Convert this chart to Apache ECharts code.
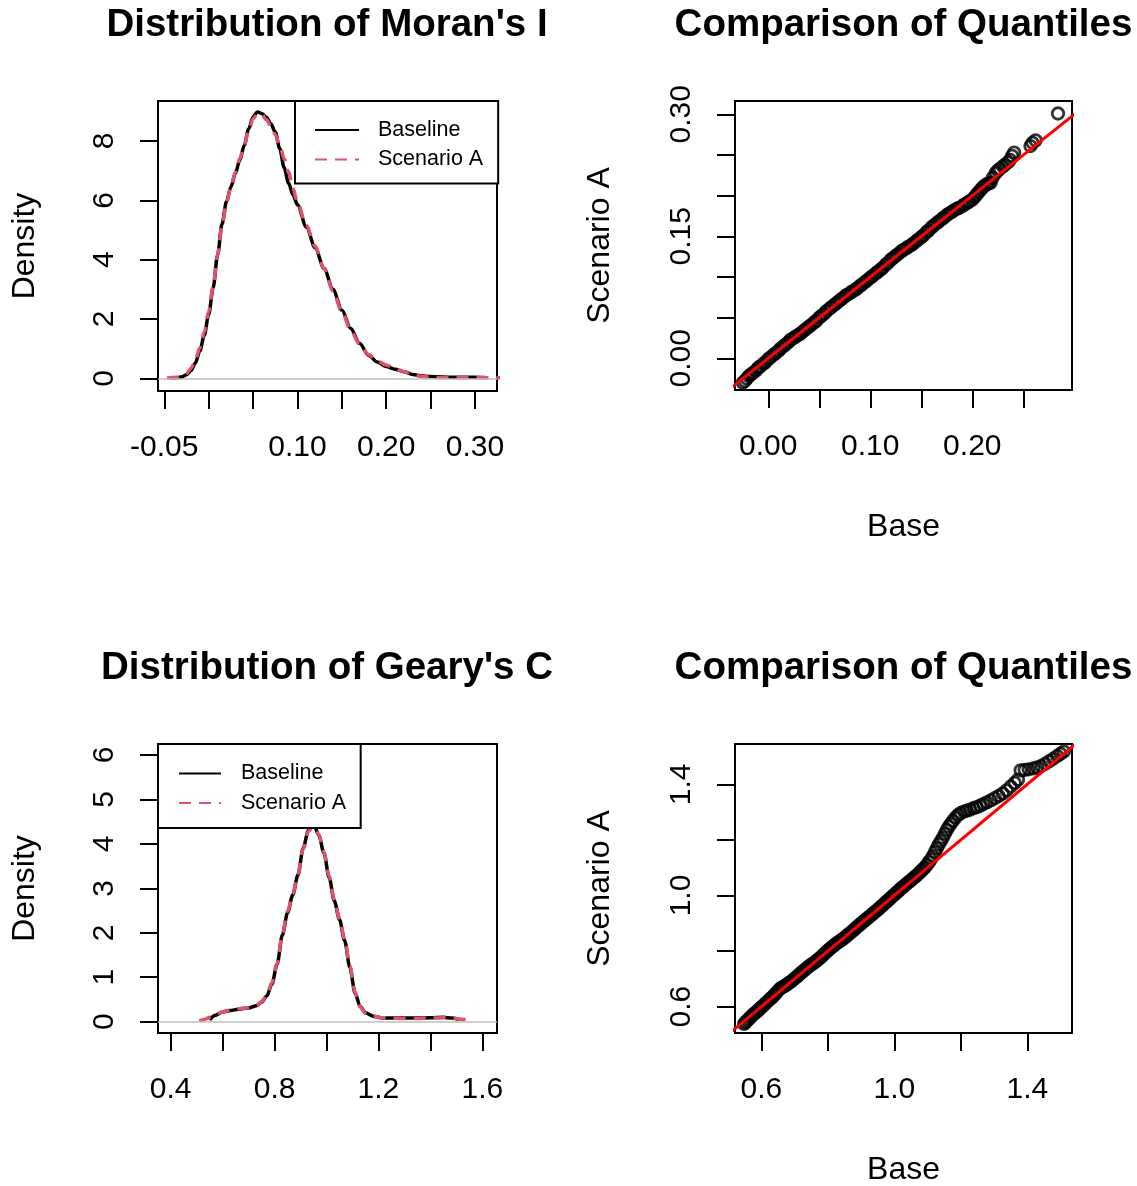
<!DOCTYPE html>
<html>
<head>
<meta charset="utf-8">
<script src="https://cdn.jsdelivr.net/npm/echarts@6/dist/echarts.min.js"></script>
<style>
  html, body { margin: 0; padding: 0; background: #fff; }
  #chart { width: 1137px; height: 1186px; }
</style>
</head>
<body>
<div id="chart"></div>
<script>
// Moran's I - density curves
const moranX = [-0.047, -0.043, -0.040, -0.035, -0.030, -0.025, -0.020, -0.015, -0.010, -0.005,
  0.000, 0.005, 0.010, 0.015, 0.020, 0.025, 0.030, 0.035, 0.040, 0.045,
  0.050, 0.055, 0.060, 0.065, 0.070, 0.075, 0.080, 0.085, 0.090, 0.095,
  0.100, 0.110, 0.120, 0.130, 0.140, 0.150, 0.160, 0.170, 0.180, 0.190,
  0.200, 0.210, 0.220, 0.230, 0.240, 0.250, 0.260, 0.270, 0.280, 0.290,
  0.300, 0.311, 0.320, 0.330]
const moranBaseline = [null, 0.00, 0.01, 0.02, 0.05, 0.12, 0.26, 0.52, 0.92, 1.45,
  2.15, 3.05, 4.15, 5.20, 5.95, 6.45, 6.90, 7.35, 7.85, 8.40,
  8.82, 8.98, 8.92, 8.80, 8.58, 8.30, 7.75, 7.10, 6.58, 6.18,
  5.85, 5.10, 4.40, 3.70, 3.00, 2.30, 1.68, 1.18, 0.78, 0.55,
  0.40, 0.31, 0.22, 0.13, 0.08, 0.06, 0.05, 0.04, 0.04, 0.04,
  0.04, 0.03, null, null]
const moranScenario = [0.01, 0.02, 0.03, 0.04, 0.08, 0.16, 0.33, 0.62, 1.02, 1.55,
  2.25, 3.10, 4.15, 5.15, 5.90, 6.45, 6.95, 7.40, 7.85, 8.35,
  8.75, 8.92, 8.88, 8.72, 8.50, 8.22, 7.85, 7.40, 6.95, 6.40,
  5.92, 5.15, 4.45, 3.70, 2.95, 2.25, 1.62, 1.15, 0.80, 0.58,
  0.45, 0.33, 0.22, 0.12, 0.06, 0.04, 0.03, 0.02, 0.02, 0.02,
  0.02, 0.02, 0.02, 0.02]

// Geary's C - density curves
const gearyX = [0.51, 0.53, 0.55, 0.57, 0.60, 0.63, 0.66, 0.70, 0.73, 0.75,
  0.77, 0.79, 0.81, 0.83, 0.85, 0.87, 0.89, 0.91, 0.93, 0.95,
  0.97, 0.99, 1.01, 1.03, 1.05, 1.07, 1.09, 1.11, 1.13, 1.15,
  1.18, 1.21, 1.25, 1.30, 1.35, 1.40, 1.45, 1.48, 1.51, 1.55]
const gearyBaseline = [null, null, 0.04, 0.14, 0.22, 0.25, 0.28, 0.31, 0.36, 0.44,
  0.58, 0.85, 1.30, 1.95, 2.45, 2.85, 3.30, 3.90, 4.30, 4.45,
  4.20, 3.80, 3.25, 2.72, 2.30, 1.82, 1.22, 0.64, 0.34, 0.20,
  0.12, 0.09, 0.08, 0.08, 0.08, 0.09, 0.10, 0.08, 0.05, null]
const gearyScenario = [0.02, 0.05, 0.10, 0.16, 0.22, 0.26, 0.29, 0.31, 0.37, 0.45,
  0.60, 0.88, 1.32, 1.98, 2.48, 2.88, 3.32, 3.88, 4.28, 4.42,
  4.22, 3.82, 3.28, 2.75, 2.32, 1.85, 1.25, 0.66, 0.33, 0.19,
  0.12, 0.09, 0.08, 0.07, 0.07, 0.08, 0.09, 0.08, 0.06, 0.03]

// Moran's I - quantile pairs (base vs scenario A)
const moranQBase = [-0.025, -0.023, -0.021, -0.019, -0.017, -0.015, -0.012, -0.010, -0.008, -0.005,
  -0.003, 0.000, 0.002, 0.005, 0.007, 0.010, 0.012, 0.015, 0.017, 0.020,
  0.022, 0.025, 0.027, 0.030, 0.032, 0.035, 0.037, 0.040, 0.042, 0.045,
  0.047, 0.050, 0.052, 0.055, 0.057, 0.060, 0.062, 0.065, 0.067, 0.070,
  0.072, 0.075, 0.077, 0.080, 0.082, 0.085, 0.087, 0.090, 0.092, 0.095,
  0.097, 0.100, 0.102, 0.105, 0.107, 0.110, 0.112, 0.115, 0.117, 0.120,
  0.122, 0.125, 0.127, 0.130, 0.132, 0.135, 0.137, 0.140, 0.142, 0.145,
  0.147, 0.150, 0.152, 0.155, 0.157, 0.160, 0.162, 0.165, 0.167, 0.170,
  0.172, 0.175, 0.177, 0.180, 0.182, 0.185, 0.187, 0.190, 0.192, 0.195,
  0.197, 0.200, 0.202, 0.204, 0.206, 0.208, 0.210, 0.212, 0.214, 0.216,
  0.218, 0.220, 0.223, 0.225, 0.227, 0.230, 0.232, 0.235, 0.237, 0.239,
  0.241, 0.257, 0.259, 0.262, 0.284]
const moranQScen = [-0.030, -0.028, -0.025, -0.022, -0.020, -0.018, -0.015, -0.012, -0.010, -0.007,
  -0.005, -0.001, 0.001, 0.004, 0.006, 0.009, 0.012, 0.015, 0.017, 0.020,
  0.023, 0.025, 0.027, 0.029, 0.031, 0.034, 0.036, 0.039, 0.041, 0.044,
  0.046, 0.050, 0.052, 0.055, 0.058, 0.061, 0.063, 0.066, 0.068, 0.071,
  0.073, 0.076, 0.078, 0.080, 0.082, 0.084, 0.086, 0.089, 0.091, 0.094,
  0.096, 0.099, 0.101, 0.104, 0.106, 0.109, 0.111, 0.115, 0.117, 0.121,
  0.123, 0.126, 0.128, 0.131, 0.133, 0.135, 0.137, 0.139, 0.141, 0.144,
  0.146, 0.149, 0.151, 0.155, 0.157, 0.161, 0.163, 0.166, 0.168, 0.171,
  0.173, 0.176, 0.178, 0.180, 0.182, 0.184, 0.185, 0.187, 0.189, 0.191,
  0.193, 0.195, 0.198, 0.201, 0.204, 0.207, 0.210, 0.212, 0.214, 0.215,
  0.216, 0.222, 0.228, 0.231, 0.233, 0.236, 0.238, 0.241, 0.244, 0.249,
  0.253, 0.261, 0.265, 0.268, 0.301]

// Geary's C - quantile pairs (base vs scenario A)
const gearyQBase = [0.548, 0.552, 0.556, 0.560, 0.565, 0.570, 0.575, 0.580, 0.585, 0.590,
  0.595, 0.600, 0.606, 0.612, 0.618, 0.624, 0.630, 0.636, 0.642, 0.648,
  0.654, 0.660, 0.666, 0.672, 0.678, 0.684, 0.690, 0.696, 0.702, 0.708,
  0.714, 0.720, 0.726, 0.732, 0.738, 0.744, 0.750, 0.756, 0.762, 0.768,
  0.774, 0.780, 0.786, 0.792, 0.798, 0.804, 0.810, 0.816, 0.822, 0.828,
  0.834, 0.840, 0.846, 0.852, 0.858, 0.864, 0.870, 0.876, 0.882, 0.888,
  0.894, 0.900, 0.906, 0.912, 0.918, 0.924, 0.930, 0.936, 0.942, 0.948,
  0.954, 0.960, 0.966, 0.972, 0.978, 0.984, 0.990, 0.996, 1.002, 1.008,
  1.014, 1.020, 1.026, 1.032, 1.038, 1.044, 1.050, 1.056, 1.062, 1.068,
  1.074, 1.080, 1.086, 1.092, 1.098, 1.104, 1.110, 1.116, 1.122, 1.128,
  1.134, 1.140, 1.146, 1.152, 1.158, 1.164, 1.170, 1.176, 1.184, 1.192,
  1.200, 1.210, 1.218, 1.228, 1.238, 1.248, 1.258, 1.268, 1.278, 1.290,
  1.302, 1.314, 1.326, 1.338, 1.350, 1.362, 1.372, 1.380, 1.392, 1.404,
  1.418, 1.430, 1.442, 1.454, 1.466, 1.478, 1.490, 1.500, 1.510]
const gearyQScen = [0.538, 0.543, 0.548, 0.553, 0.559, 0.565, 0.571, 0.576, 0.581, 0.586,
  0.592, 0.598, 0.604, 0.611, 0.618, 0.625, 0.631, 0.638, 0.646, 0.654,
  0.662, 0.668, 0.672, 0.676, 0.681, 0.686, 0.691, 0.697, 0.703, 0.709,
  0.716, 0.722, 0.728, 0.734, 0.740, 0.746, 0.751, 0.756, 0.761, 0.767,
  0.773, 0.779, 0.786, 0.793, 0.800, 0.806, 0.812, 0.818, 0.824, 0.829,
  0.834, 0.839, 0.844, 0.850, 0.856, 0.862, 0.868, 0.874, 0.880, 0.887,
  0.893, 0.899, 0.905, 0.911, 0.917, 0.923, 0.929, 0.935, 0.941, 0.947,
  0.953, 0.960, 0.966, 0.973, 0.979, 0.986, 0.992, 0.999, 1.005, 1.012,
  1.018, 1.025, 1.031, 1.037, 1.043, 1.049, 1.055, 1.061, 1.067, 1.073,
  1.080, 1.087, 1.094, 1.101, 1.110, 1.120, 1.130, 1.142, 1.156, 1.170,
  1.184, 1.196, 1.208, 1.222, 1.236, 1.248, 1.258, 1.268, 1.280, 1.290,
  1.297, 1.302, 1.305, 1.309, 1.314, 1.318, 1.323, 1.329, 1.335, 1.342,
  1.350, 1.358, 1.367, 1.378, 1.392, 1.405, 1.417, 1.450, 1.452, 1.454,
  1.457, 1.461, 1.466, 1.474, 1.483, 1.492, 1.502, 1.510, 1.518]

// y = x reference line ends
const moranRef = [-0.05, 0.35]
const gearyRef = [0.45, 1.6]

// ticks and labels
const moranDensTicksX = [-0.05, 0, 0.05, 0.10, 0.15, 0.20, 0.25, 0.30]
const moranDensLabelsX = [-0.05, 0.10, 0.20, 0.30]
const moranDensTicksY = [0, 2, 4, 6, 8]
const moranQTicksX = [0, 0.05, 0.10, 0.15, 0.20, 0.25]
const moranQLabelsX = [0, 0.10, 0.20]
const moranQTicksY = [0, 0.05, 0.10, 0.15, 0.20, 0.25, 0.30]
const moranQLabelsY = [0, 0.15, 0.30]
const gearyDensTicksX = [0.4, 0.6, 0.8, 1.0, 1.2, 1.4, 1.6]
const gearyDensLabelsX = [0.4, 0.8, 1.2, 1.6]
const gearyDensTicksY = [0, 1, 2, 3, 4, 5, 6]
const gearyQTicks = [0.6, 0.8, 1.0, 1.2, 1.4]
const gearyQLabels = [0.6, 1.0, 1.4]

const FONT = '"Liberation Sans", Arial, sans-serif'
const pairs = (xs, ys) => xs.map((x, i) => [x, ys[i]]).filter(p => p[1] !== null)

function axis (gridIndex, min, max, ticks, labels, digits, extra) {
  return Object.assign({
    type: 'value',
    gridIndex: gridIndex,
    min: min,
    max: max,
    axisLine: { show: false, onZero: false },
    splitLine: { show: false },
    axisTick: { show: true, inside: false, length: 18, customValues: ticks, lineStyle: { color: '#000', width: 2 } },
    axisLabel: {
      customValues: labels,
      formatter: v => v.toFixed(digits),
      fontSize: 30,
      color: '#000',
      fontFamily: FONT,
      margin: 42
    },
    nameLocation: 'middle',
    nameTextStyle: { fontSize: 32, color: '#000', fontFamily: FONT }
  }, extra || {})
}

function yAxis (gridIndex, min, max, ticks, labels, digits, name, gap) {
  let a = axis(gridIndex, min, max, ticks, labels, digits, { name: name, nameGap: gap })
  a.axisLabel.rotate = 90
  a.axisLabel.margin = 38
  return a
}

function legend (left, top, lineLen, padding, textPad) {
  return {
    orient: 'vertical',
    left: left,
    top: top,
    data: ['Baseline', 'Scenario A'],
    itemWidth: lineLen,
    itemHeight: 20,
    itemGap: 7.5,
    padding: padding,
    borderColor: '#000',
    borderWidth: 2,
    borderRadius: 0,
    backgroundColor: '#fff',
    selectedMode: false,
    lineStyle: { width: 2 },
    itemStyle: { opacity: 0 }, // no marker on the legend lines
    textStyle: { fontSize: 21.5, lineHeight: 21.5, color: '#000', fontFamily: FONT, padding: [0, 0, 0, textPad] },
    z: 10
  }
}

function title (text, x, y) {
  return {
    text: text,
    left: x,
    top: y,
    padding: 0,
    textAlign: 'center',
    textVerticalAlign: 'top',
    textStyle: { fontSize: 38.5, fontWeight: 'bold', color: '#000', fontFamily: FONT }
  }
}

const gridStyle = { show: true, borderColor: '#000', borderWidth: 2, backgroundColor: 'transparent', containLabel: false, outerBoundsMode: 'none' }

// open circles, like pch = 1
const qqPoint = { color: 'rgba(0,0,0,0)', borderColor: '#000', borderWidth: 2.8 }

let chart = echarts.init(document.getElementById('chart'), null, { renderer: 'canvas' })
let options = {
  animation: false,
  backgroundColor: '#fff',
  textStyle: { fontFamily: FONT },
  title: [
    title("Distribution of Moran's I", 327, 6),
    title('Comparison of Quantiles', 903.5, 6),
    title("Distribution of Geary's C", 327, 649),
    title('Comparison of Quantiles', 903.5, 649)
  ],
  legend: [
    legend(295, 101, 44, [18, 15, 13, 19], 14),
    legend(158, 744, 42, [18.5, 14.5, 14, 20], 15)
  ],
  grid: [
    Object.assign({ left: 158, top: 101, width: 339, height: 290 }, gridStyle),
    Object.assign({ left: 735, top: 101, width: 337, height: 289 }, gridStyle),
    Object.assign({ left: 158, top: 744, width: 339, height: 289 }, gridStyle),
    Object.assign({ left: 735, top: 744, width: 337, height: 289 }, gridStyle)
  ],
  xAxis: [
    axis(0, -0.0571, 0.3248, moranDensTicksX, moranDensLabelsX, 2),
    axis(1, -0.0326, 0.2977, moranQTicksX, moranQLabelsX, 2, { name: 'Base', nameGap: 121 }),
    axis(2, 0.3511, 1.6566, gearyDensTicksX, gearyDensLabelsX, 1),
    axis(3, 0.5209, 1.5344, gearyQTicks, gearyQLabels, 1, { name: 'Base', nameGap: 121 })
  ],
  yAxis: [
    yAxis(0, -0.427, 9.347, moranDensTicksY, moranDensTicksY, 0, 'Density', 117),
    yAxis(1, -0.039, 0.3164, moranQTicksY, moranQLabelsY, 2, 'Scenario A', 119),
    yAxis(2, -0.255, 6.248, gearyDensTicksY, gearyDensTicksY, 0, 'Density', 117),
    yAxis(3, 0.5054, 1.545, gearyQTicks, gearyQLabels, 1, 'Scenario A', 119)
  ],
  series: [
    // Moran's I density
    {
      type: 'line', name: 'Baseline', xAxisIndex: 0, yAxisIndex: 0,
      data: pairs(moranX, moranBaseline),
      symbol: 'none', smooth: 0.3, smoothMonotone: 'x', silent: true,
      lineStyle: { color: '#000', width: 3.5 }, itemStyle: { color: '#000' },
      markLine: {
        silent: true, symbol: ['none', 'none'], label: { show: false },
        lineStyle: { color: '#BEBEBE', width: 1.5, type: 'solid' },
        data: [{ yAxis: 0 }]
      }
    },
    {
      type: 'line', name: 'Scenario A', xAxisIndex: 0, yAxisIndex: 0,
      data: pairs(moranX, moranScenario),
      symbol: 'none', smooth: 0.3, smoothMonotone: 'x', silent: true,
      lineStyle: { color: '#DF536B', width: 3.5, type: [12, 8] }, itemStyle: { color: '#DF536B' }
    },
    // Moran's I quantiles
    {
      type: 'scatter', xAxisIndex: 1, yAxisIndex: 1,
      data: pairs(moranQBase, moranQScen),
      symbol: 'circle', symbolSize: 11.5, silent: true,
      itemStyle: qqPoint
    },
    {
      type: 'line', xAxisIndex: 1, yAxisIndex: 1,
      data: pairs(moranRef, moranRef),
      symbol: 'none', silent: true, z: 3,
      lineStyle: { color: '#FF0000', width: 3 }
    },
    // Geary's C density
    {
      type: 'line', name: 'Baseline', xAxisIndex: 2, yAxisIndex: 2,
      data: pairs(gearyX, gearyBaseline),
      symbol: 'none', smooth: 0.3, smoothMonotone: 'x', silent: true,
      lineStyle: { color: '#000', width: 3.5 }, itemStyle: { color: '#000' },
      markLine: {
        silent: true, symbol: ['none', 'none'], label: { show: false },
        lineStyle: { color: '#BEBEBE', width: 1.5, type: 'solid' },
        data: [{ yAxis: 0 }]
      }
    },
    {
      type: 'line', name: 'Scenario A', xAxisIndex: 2, yAxisIndex: 2,
      data: pairs(gearyX, gearyScenario),
      symbol: 'none', smooth: 0.3, smoothMonotone: 'x', silent: true,
      lineStyle: { color: '#DF536B', width: 3.5, type: [12, 8] }, itemStyle: { color: '#DF536B' }
    },
    // Geary's C quantiles
    {
      type: 'scatter', xAxisIndex: 3, yAxisIndex: 3,
      data: pairs(gearyQBase, gearyQScen),
      symbol: 'circle', symbolSize: 11.5, silent: true,
      itemStyle: qqPoint
    },
    {
      type: 'line', xAxisIndex: 3, yAxisIndex: 3,
      data: pairs(gearyRef, gearyRef),
      symbol: 'none', silent: true, z: 3,
      lineStyle: { color: '#FF0000', width: 3 }
    }
  ]
}
chart.setOption(options)
</script>
</body>
</html>
